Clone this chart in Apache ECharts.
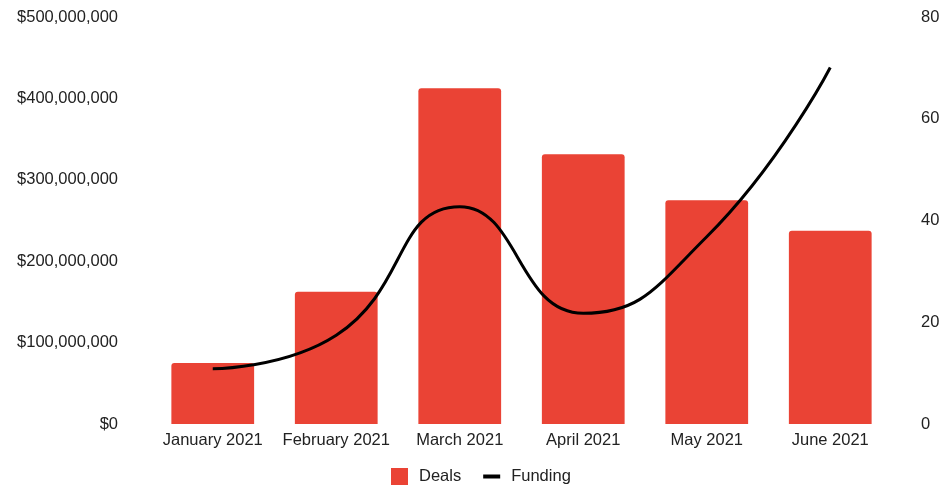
<!DOCTYPE html>
<html>
<head>
<meta charset="utf-8">
<script src="https://cdn.jsdelivr.net/npm/echarts@6/dist/echarts.min.js"></script>
<style>html,body{margin:0;padding:0;background:#fff}#c{width:944px;height:486px}</style>
</head>
<body>
<div id="c"></div>
<script>
const categories = ['January 2021', 'February 2021', 'March 2021', 'April 2021', 'May 2021', 'June 2021'];
const deals = [12, 26, 66, 53, 44, 38];
const funding = [68000000, 109000000, 267000000, 136000000, 230000000, 438000000];
const leftTicks = [0, 100000000, 200000000, 300000000, 400000000, 500000000];
const rightTicks = [0, 20, 40, 60, 80];

const font = "'Liberation Sans', Arial, Helvetica, sans-serif";
const fs = 16.5;
const chart = echarts.init(document.getElementById('c'));
chart.setOption({
  animation: false,
  backgroundColor: '#fff',
  textStyle: { fontFamily: font },
  grid: { left: 151, right: 52, top: 17, bottom: 62 },
  legend: {
    left: 386, top: 463,
    itemWidth: 17, itemHeight: 17, itemGap: 22,
    textStyle: { fontFamily: font, fontSize: fs, color: '#222', padding: [0, 0, 0, 6] },
    data: [
      { name: 'Deals', icon: 'rect', itemStyle: { color: '#ea4335' } },
      { name: 'Funding', icon: 'path://M0,0 H17 V4 H0 Z', itemStyle: { color: '#000' } }
    ]
  },
  xAxis: {
    type: 'category', data: categories,
    axisLine: { show: false }, axisTick: { show: false },
    axisLabel: { fontSize: fs, color: '#222', fontFamily: font, margin: 8, interval: 0 }
  },
  yAxis: [
    {
      type: 'value', min: leftTicks[0], max: leftTicks[leftTicks.length - 1], interval: 100000000,
      splitLine: { show: false }, axisLine: { show: false }, axisTick: { show: false },
      axisLabel: {
        fontSize: fs, color: '#222', fontFamily: font, margin: 33,
        formatter: v => '$' + v.toLocaleString('en-US')
      }
    },
    {
      type: 'value', min: rightTicks[0], max: rightTicks[rightTicks.length - 1], interval: 20,
      position: 'right',
      splitLine: { show: false }, axisLine: { show: false }, axisTick: { show: false },
      axisLabel: { fontSize: fs, color: '#222', fontFamily: font, margin: 29 }
    }
  ],
  series: [
    {
      name: 'Deals', type: 'bar', yAxisIndex: 1, data: deals,
      barCategoryGap: '33%',
      itemStyle: { color: '#ea4335', borderRadius: [3, 3, 0, 0] }
    },
    {
      name: 'Funding', type: 'line', yAxisIndex: 0, data: funding,
      smooth: 0.5, symbol: 'none',
      lineStyle: { color: '#000', width: 3 },
      itemStyle: { color: '#000' }
    }
  ]
});
</script>
</body>
</html>
